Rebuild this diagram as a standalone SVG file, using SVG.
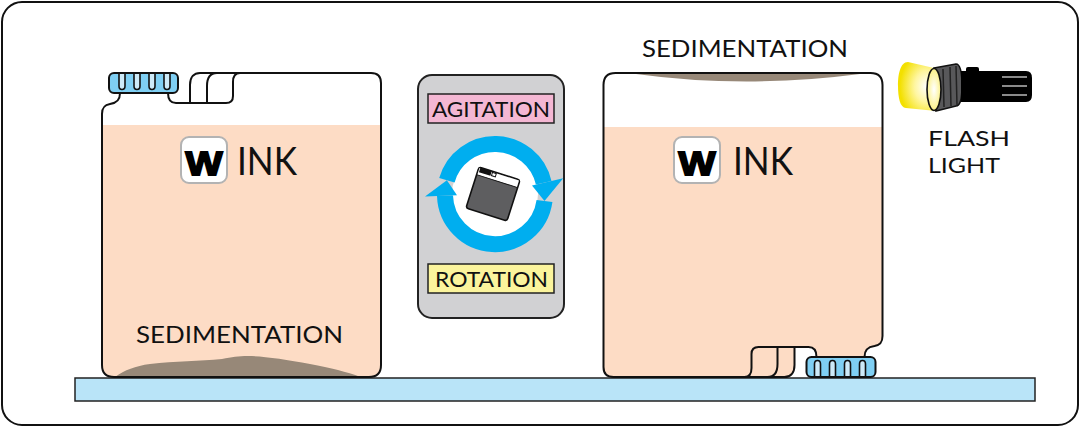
<svg xmlns="http://www.w3.org/2000/svg" xmlns:xlink="http://www.w3.org/1999/xlink" width="1080" height="427" viewBox="0 0 1080 427">
  <style>
    .line { fill: none; stroke: #111; stroke-width: 2; stroke-linecap: round; stroke-linejoin: round; }
    .label { font-family: Lato, "Open Sans", "Liberation Sans", sans-serif; font-weight: 400; fill: #111; }
    .cap { fill: #7fcff3; stroke: #111; stroke-width: 2; }
    .slot { fill: #cdeaf8; stroke: #111; stroke-width: 1.6; }
    .badge { fill: #fff; stroke: #b3b3b3; stroke-width: 2; }
    .wmark { font-family: "Liberation Sans", Arial, sans-serif; font-weight: bold; fill: #000; stroke: #000; stroke-width: 1.8; }
    .tag { stroke: #222; stroke-width: 1.5; }
    .ink { fill: #fddcc5; }
    .sediment { fill: #978878; }
  </style>
  <defs>
    <!-- bottle body outline, upright with cap at top-left -->
    <path id="bottle" d="M 120,93 C 120,100 117,103 110,104 C 104,105 102,108 102,114 L 102,365 Q 102,377 114,377 L 369,377 Q 381,377 381,365 L 381,83 Q 381,73 371,73 L 200,73 C 194,73 190,77 190,85 L 190,103 L 176,103 C 170,103 168,99 168,93 Z"/>
    <clipPath id="clipLeft"><use xlink:href="#bottle"/></clipPath>
    <clipPath id="clipRight"><use xlink:href="#bottle" transform="translate(984.5,450) rotate(180)"/></clipPath>
    <radialGradient id="beam" cx="0.75" cy="0.5" r="0.7">
      <stop offset="0" stop-color="#ffffff"/>
      <stop offset="0.45" stop-color="#fff6a0"/>
      <stop offset="1" stop-color="#f3e000"/>
    </radialGradient>
    <radialGradient id="lens" cx="0.5" cy="0.5" r="0.6">
      <stop offset="0" stop-color="#ffffff"/>
      <stop offset="1" stop-color="#fbef70"/>
    </radialGradient>
    <!-- cap with four slots, drawn in bottle coordinates -->
    <g id="capShape">
      <rect class="cap" x="109" y="73" width="69" height="20" rx="5"/>
      <path class="slot" d="M 119,74 L 119,86 Q 119,89.5 122,89.5 Q 125,89.5 125,86 L 125,74"/>
      <path class="slot" d="M 134,74 L 134,86 Q 134,89.5 137,89.5 Q 140,89.5 140,86 L 140,74"/>
      <path class="slot" d="M 149,74 L 149,86 Q 149,89.5 152,89.5 Q 155,89.5 155,86 L 155,74"/>
      <path class="slot" d="M 164,74 L 164,86 Q 164,89.5 167,89.5 Q 170,89.5 170,86 L 170,74"/>
    </g>
    <!-- outline and handle detail lines -->
    <g id="bottleLines">
      <use xlink:href="#bottle" class="line"/>
      <path class="line" d="M 207,103 L 207,86 C 207,77 210,73 217,73"/>
      <path class="line" d="M 240,73 C 235,73 233,76 233,82 L 233,96 C 233,101 230,103 226,103 L 190,103"/>
    </g>
  </defs>

  <!-- outer frame -->
  <rect x="2" y="2" width="1076" height="423" rx="20" fill="#fff" stroke="#111" stroke-width="2"/>

  <!-- shelf -->
  <rect id="shelf" x="75" y="378" width="960" height="23" fill="#b9e4f8" stroke="#222" stroke-width="1.5"/>

  <!-- upright ink bottle with settled sediment at the bottom -->
  <g id="bottle-upright">
    <g clip-path="url(#clipLeft)">
      <rect x="95" y="60" width="300" height="330" fill="#fff"/>
      <rect class="ink" x="95" y="125" width="300" height="260"/>
      <path class="sediment" d="M 112,380 L 115,377 C 125,370 135,366 150,364 C 175,361 200,361 222,359 C 232,357 238,356 248,356 C 262,356 285,359 310,364 C 335,369 352,373 368,380 Z"/>
    </g>
    <use xlink:href="#bottleLines"/>
    <use xlink:href="#capShape"/>
    <rect class="badge" x="181" y="137" width="46" height="46" rx="8"/>
    <text class="wmark" x="204" y="175" font-size="34" text-anchor="middle" textLength="37" lengthAdjust="spacingAndGlyphs">W</text>
    <text class="label" x="237" y="175" font-size="38" textLength="60" lengthAdjust="spacingAndGlyphs">INK</text>
    <text class="label" x="136" y="343" font-size="23.5" textLength="207" lengthAdjust="spacingAndGlyphs">SEDIMENTATION</text>
  </g>

  <!-- agitation / rotation panel -->
  <g id="agitation-panel">
    <rect x="418" y="75" width="146" height="243" rx="14" fill="#d1d1d3" stroke="#222" stroke-width="2"/>
    <rect class="tag" x="428" y="94" width="126" height="29" fill="#f4b7d3"/>
    <text class="label" x="432" y="117" font-size="22" textLength="118" lengthAdjust="spacingAndGlyphs">AGITATION</text>
    <rect class="tag" x="428" y="264" width="126" height="29" fill="#fbf49c"/>
    <text class="label" x="435" y="287" font-size="22" textLength="113" lengthAdjust="spacingAndGlyphs">ROTATION</text>
    <!-- circular rotation arrows -->
    <circle cx="495" cy="194" r="43" fill="#fff"/>
    <g fill="none" stroke="#00aeef" stroke-width="16">
      <path d="M 446.9,180.2 A 50,50 0 0 1 543.7,182.8"/>
      <path d="M 544.5,201 A 50,50 0 0 1 445,195.7"/>
    </g>
    <g fill="#00aeef">
      <polygon points="457,195.3 425,196.4 446.9,180.2"/>
      <polygon points="532,185.4 563.2,178.2 544.5,201"/>
    </g>
    <!-- ink cartridge -->
    <g transform="translate(493,194) rotate(17.6)">
      <rect x="-21.5" y="-21.5" width="43" height="43" rx="2.5" fill="#5e5e60" stroke="#111" stroke-width="1.6"/>
      <rect x="-20.7" y="-20.7" width="41.4" height="7" fill="#fff"/>
      <line x1="-21.5" y1="-13.5" x2="21.5" y2="-13.5" stroke="#111" stroke-width="1"/>
      <rect x="-20" y="-21.5" width="12" height="5" fill="#111"/>
      <rect x="-7" y="-20.5" width="4" height="3.5" fill="#fff" stroke="#111" stroke-width="1"/>
    </g>
  </g>

  <!-- inverted ink bottle with sediment collected at the top -->
  <g id="bottle-inverted">
    <g clip-path="url(#clipRight)">
      <rect x="595" y="60" width="300" height="330" fill="#fff"/>
      <rect class="ink" x="595" y="127" width="300" height="260"/>
      <path class="sediment" d="M 634,72 L 636,74 Q 745,89 860,74 L 862,72 Z"/>
    </g>
    <g transform="translate(984.5,450) rotate(180)">
      <use xlink:href="#bottleLines"/>
      <use xlink:href="#capShape"/>
    </g>
    <rect class="badge" x="674" y="137" width="46" height="46" rx="8"/>
    <text class="wmark" x="697" y="175" font-size="34" text-anchor="middle" textLength="37" lengthAdjust="spacingAndGlyphs">W</text>
    <text class="label" x="733" y="175" font-size="38" textLength="60" lengthAdjust="spacingAndGlyphs">INK</text>
    <text class="label" x="642" y="57" font-size="23.5" textLength="206" lengthAdjust="spacingAndGlyphs">SEDIMENTATION</text>
  </g>

  <!-- flashlight -->
  <g id="flashlight">
    <path d="M 934,68 L 908,62 C 900,62 898,75 898,86 C 898,97 900,108 906,108 L 936,111 Z" fill="url(#beam)"/>
    <path d="M 934,68 L 956,64 C 960,64 962,70 962,86 C 962,101 960,106 956,106 L 936,111 Z" fill="#58585a" stroke="#111" stroke-width="1.6"/>
    <g stroke="#222" stroke-width="1.5">
      <line x1="943" y1="69" x2="944" y2="107"/>
      <line x1="950" y1="67" x2="951" y2="106"/>
      <line x1="956" y1="66" x2="957" y2="105"/>
    </g>
    <path d="M 961,71 L 1026,71 Q 1032,71 1032,78 L 1032,95 Q 1032,102 1026,102 L 961,102 Z" fill="#000"/>
    <rect x="966" y="67" width="13" height="6" rx="2" fill="#000"/>
    <g stroke="#8a8a8a" stroke-width="2">
      <line x1="1002" y1="77" x2="1027" y2="77"/>
      <line x1="1002" y1="86" x2="1027" y2="86"/>
      <line x1="1002" y1="95" x2="1027" y2="95"/>
    </g>
    <ellipse cx="934" cy="89.5" rx="7" ry="21" fill="url(#lens)" stroke="#111" stroke-width="1.6"/>
    <text class="label" x="928" y="146" font-size="22" textLength="82" lengthAdjust="spacingAndGlyphs">FLASH</text>
    <text class="label" x="928" y="173" font-size="22" textLength="72" lengthAdjust="spacingAndGlyphs">LIGHT</text>
  </g>
</svg>
